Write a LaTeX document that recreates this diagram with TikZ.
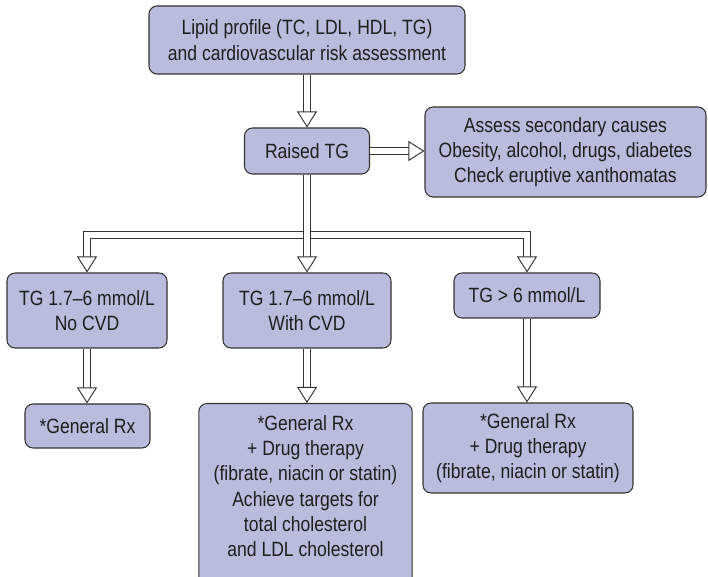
\documentclass[tikz,border=0pt]{standalone}
\usepackage{fontspec}
\setmainfont{Liberation Sans}[FakeStretch=0.85]
\usepackage{xcolor}
\definecolor{lavender}{RGB}{187,187,222}
\definecolor{edge}{HTML}{333333}
\definecolor{ink}{HTML}{1E1E1E}
\usepackage{tikz}
\usetikzlibrary{arrows.meta, positioning, calc, decorations.markings}

\begin{document}
\begin{tikzpicture}[x=0.75pt, y=-0.75pt]
  \tikzstyle{flowbox}=[rectangle, rounded corners=6pt, draw=edge, line width=0.8pt,
    fill=lavender, text=ink, align=center, inner sep=2pt,
    font=\fontsize{15.5}{19}\selectfont]
  \tikzstyle{dbl}=[draw=edge, line width=0.7pt, double=white, double distance=4.2pt,
    shorten >=9pt,
    postaction={decorate, decoration={markings, mark=at position 1 with
      {\arrow[line width=0.7pt, edge]{Triangle[open, fill=white, length=12pt, width=15pt]}}}}]
  \useasboundingbox (0,0) rectangle (708,577);
  % top of the chart
  \node[flowbox, minimum width=237pt, minimum height=51pt] (lipid) at (307,40)
    {Lipid profile (TC, LDL, HDL, TG)\\and cardiovascular risk assessment};
  \node[flowbox, minimum width=93.75pt, minimum height=34.5pt] (raised) at (307,151)
    {Raised TG};
  \node[flowbox, minimum width=210.75pt, minimum height=67.5pt] (assess) at (565.5,152)
    {Assess secondary causes\\Obesity, alcohol, drugs, diabetes\\Check eruptive xanthomatas};
  % TG levels
  \node[flowbox, minimum width=120pt, minimum height=56.25pt] (tglow) at (87,310.5)
    {TG 1.7--6 mmol/L\\No CVD};
  \node[flowbox, minimum width=126pt, minimum height=56.25pt] (tgcvd) at (307,310.5)
    {TG 1.7--6 mmol/L\\With CVD};
  \node[flowbox, minimum width=109.5pt, minimum height=33.75pt] (tghigh) at (527,295.5)
    {TG > 6 mmol/L};
  % treatment
  \node[flowbox, minimum width=93.75pt, minimum height=33pt] (rxlow) at (87.5,426)
    {*General Rx};
  \node[flowbox, minimum width=160pt, minimum height=142.5pt, anchor=north] (rxcvd) at (305.5,403)
    {*General Rx\\+ Drug therapy\\(fibrate, niacin or statin)\\Achieve targets for\\total cholesterol\\and LDL cholesterol\\\mbox{}};
  \node[flowbox, minimum width=157.5pt, minimum height=67.5pt] (rxhigh) at (528,448)
    {*General Rx\\+ Drug therapy\\(fibrate, niacin or statin)};
  \coordinate (split) at (307,235);
  \draw[dbl] (lipid.south) -- (raised.north);
  \draw[dbl] (raised.east) -- (raised.east -| assess.west);
  \draw[dbl] (raised.south) -- (split) -| (tglow.north);
  \draw[dbl] (raised.south) -- (split) -| (tghigh.north);
  \draw[dbl] (raised.south) -- (tgcvd.north);
  \draw[dbl] (tglow.south) -- (tglow.south |- rxlow.north);
  \draw[dbl] (tgcvd.south) -- (tgcvd.south |- rxcvd.north);
  \draw[dbl] (tghigh.south) -- (tghigh.south |- rxhigh.north);
\end{tikzpicture}
\end{document}
